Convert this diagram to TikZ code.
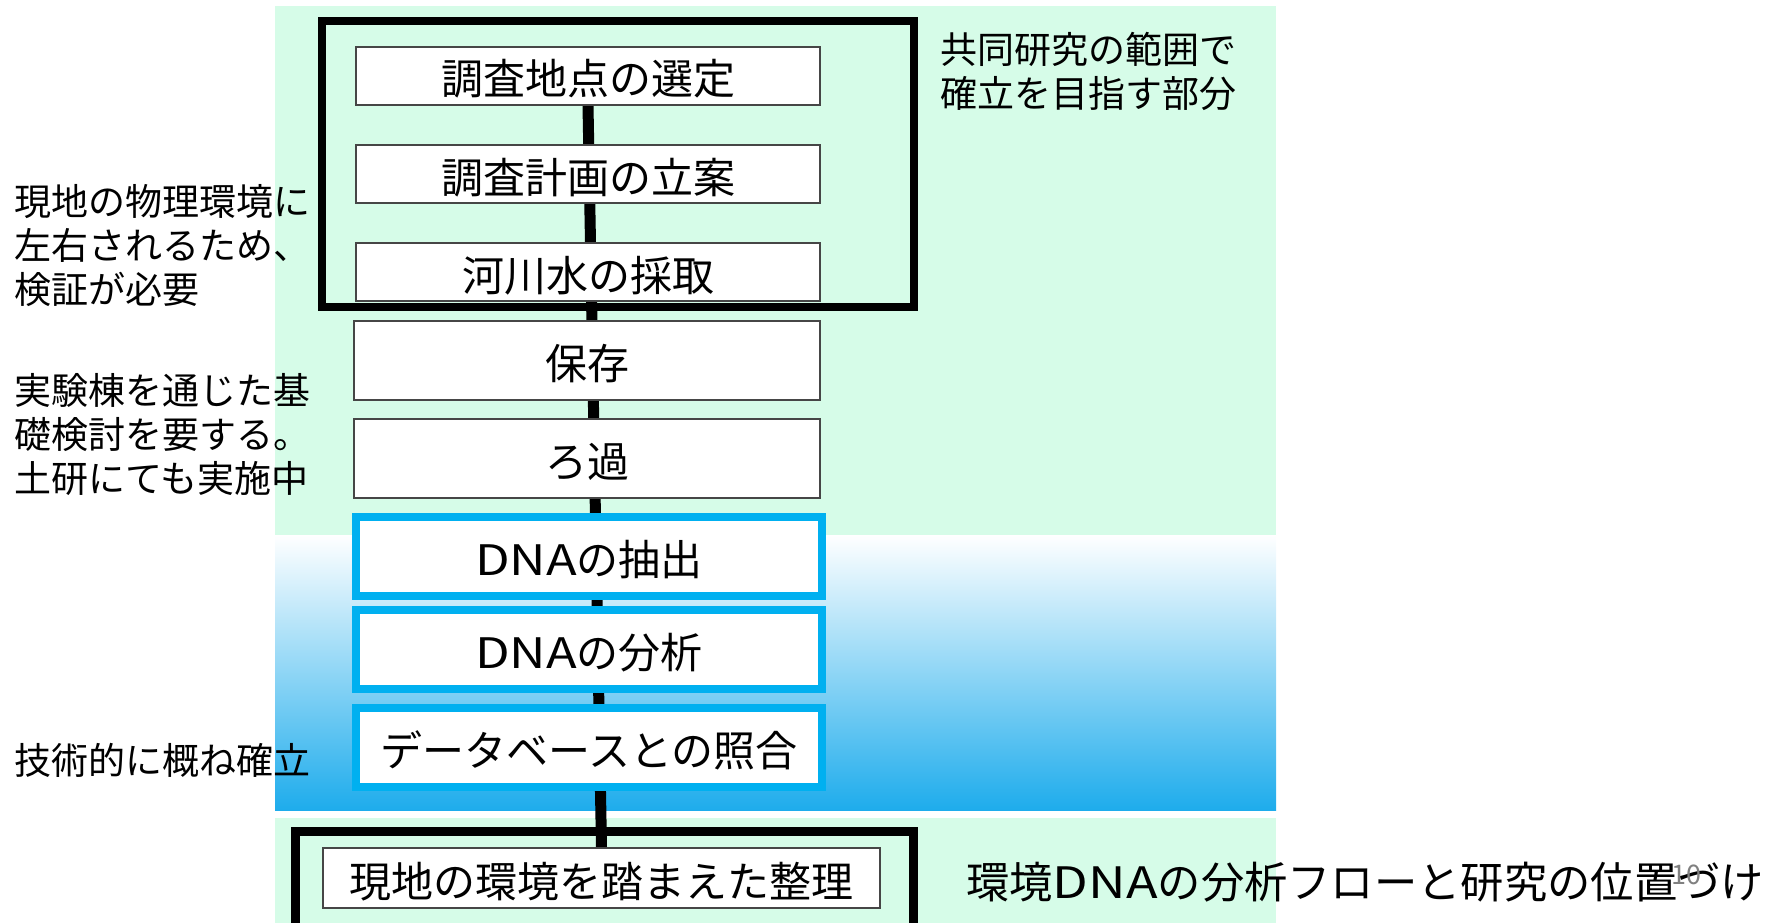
\documentclass[tikz,border=0pt]{standalone}
\usepackage{fontspec}
\setmainfont{Noto Sans CJK JP}
\newfontfamily\widelat[FakeStretch=1.2]{Noto Sans CJK JP}
\usetikzlibrary{backgrounds}
\definecolor{mint}{RGB}{214,252,232}
\definecolor{skyb}{RGB}{0,176,240}
\definecolor{gradb}{RGB}{30,172,236}
\definecolor{gradm}{RGB}{196,226,248}
\definecolor{pgnum}{RGB}{128,128,128}
\definecolor{nodeline}{RGB}{70,70,70}
\begin{document}
\begin{tikzpicture}[x=1pt,y=-1pt,
  stepbox/.style={draw=nodeline,line width=1.3pt,fill=white,minimum width=464pt,inner sep=0pt,text height=38pt,text depth=0pt,font=\fontsize{42}{50}\selectfont},
  bluebox/.style={draw=skyb,line width=8pt,fill=white,minimum width=466pt,minimum height=79pt,inner sep=0pt,text height=38pt,text depth=0pt,font=\fontsize{42}{50}\selectfont},
  frame/.style={draw=black,line width=8.5pt},
  link/.style={line width=11pt,black},
  note/.style={anchor=west,align=left,inner sep=0pt,font=\fontsize{37}{44}\selectfont}]
\useasboundingbox (0,0) rectangle (1766,923);
\clip (0,0) rectangle (1766,923);
% nodes
\node[stepbox,minimum height=58pt] (n1) at (588,76) {調査地点の選定};
\node[stepbox,minimum height=58pt] (n2) at (588,174) {調査計画の立案};
\node[stepbox,minimum height=58pt] (n3) at (588,272) {河川水の採取};
\node[stepbox,minimum width=466pt,minimum height=79pt] (n4) at (587,360.5) {保存};
\node[stepbox,minimum width=466pt,minimum height=79pt] (n5) at (587,458.5) {ろ過};
\node[bluebox] (n6) at (589,556.5) {{\widelat DNA}の抽出};
\node[bluebox] (n7) at (589,649.5) {{\widelat DNA}の分析};
\node[bluebox] (n8) at (589,747.5) {データベースとの照合};
\node[stepbox,minimum width=557pt,minimum height=60pt] (n9) at (601.5,878) {現地の環境を踏まえた整理};
% frames
\draw[frame] (322,21) rectangle (914,307);
\draw[frame] (295.5,831.5) rectangle (913.5,960);
% notes
\node[note] (t1) at (940,71) {共同研究の範囲で\\確立を目指す部分};
\node[note] (t2) at (14,246) {現地の物理環境に\\左右されるため、\\検証が必要};
\node[note] (t3) at (14,435) {実験棟を通じた基\\礎検討を要する。\\土研にても実施中};
\node[note] (t4) at (14,760) {技術的に概ね確立};
\node[anchor=west,inner sep=0pt,font=\fontsize{43.3}{50}\selectfont] (title) at (966,882) {環境{\widelat DNA}の分析フローと研究の位置づけ};
\node[inner sep=0pt,text=pgnum,font=\fontsize{27}{30}\selectfont] (pg) at (1686,875) {10};
% background
\begin{pgfonlayer}{background}
  \fill[mint] (275,6) rectangle (1276,535);
  \shade[top color=white,middle color=gradm,bottom color=gradb] (275,535) rectangle (1276,810);
  \fill[mint] (275,818) rectangle (1276,923);
  \draw[link] (n1.south) -- (n9.north);
\end{pgfonlayer}
\end{tikzpicture}
\end{document}
